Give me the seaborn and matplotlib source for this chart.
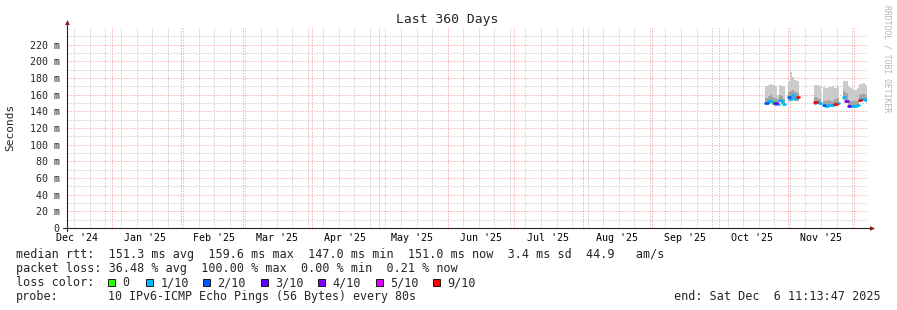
import numpy as np
import pandas as pd
import matplotlib
matplotlib.use("Agg")
import matplotlib.pyplot as plt
import matplotlib.dates as mdates
from matplotlib.patches import Rectangle
import matplotlib.ticker as mticker
import seaborn as sns

# ---------------- data ----------------
days = pd.date_range("2025-10-22", "2025-12-06", freq="D")

median_ms = [150, 152, 153, 151, 150, 149, 154, 152, 149, None,
             157, 155, 159.6, 156, 157, None, None, None, None, None, None, None,
             151, 151, 150, None,
             148, 147, 148, 148, 148, 149, 150, None, None,
             157, 153, 147, 147, 147, 147, 148, 154, 155, 155, 154]
smoke_min = [148, 149, 150, 148, 147, 147, 151, 149, 147, None,
             153, 152, 155, 153, 153, None, None, None, None, None, None, None,
             148, 149, 148, None,
             146, 145, 146, 146, 146, 147, 148, None, None,
             154, 150, 145, 145, 145, 145, 146, 151, 152, 152, 151]
smoke_q3 = [156, 158, 160, 157, 156, 154, 160, 158, 155, None,
            163, 165, 166, 163, 162, None, None, None, None, None, None, None,
            157, 156, 155, None,
            153, 153, 154, 153, 153, 155, 156, None, None,
            165, 162, 152, 153, 152, 152, 153, 160, 161, 161, 160]
smoke_max = [170, 172, 173, 172, 171, 160, 172, 171, 170, None,
             177, 187, 181, 178, 176, None, None, None, None, None, None, None,
             172, 172, 171, None,
             169, 168, 169, 169, 170, 168, 170, None, None,
             177, 176, 170, 168, 167, 166, 168, 173, 173, 174, 172]
loss_tenths = [2, 1, 1, 0, 3, 1, 1, 1, 1, None,
               2, 1, 1, 1, 9, None, None, None, None, None, None, None,
               9, 1, 1, None,
               2, 1, 1, 1, 1, 9, 1, None, None,
               1, 4, 3, 1, 1, 1, 1, 9, 1, 1, 1]

loss_labels = ["0", "1/10", "2/10", "3/10", "4/10", "5/10", "9/10"]
loss_colors = ["#26ff00", "#00b8ff", "#0059ff", "#5e00ff", "#7e00ff", "#dd00ff", "#ff0000"]

month_labels = ["Dec '24", "Jan '25", "Feb '25", "Mar '25", "Apr '25", "May '25",
                "Jun '25", "Jul '25", "Aug '25", "Sep '25", "Oct '25", "Nov '25"]
y_ticks = list(range(0, 221, 20))

legend_rtt = "median rtt:  151.3 ms avg  159.6 ms max  147.0 ms min  151.0 ms now  3.4 ms sd  44.9   am/s"
legend_loss = "packet loss: 36.48 % avg  100.00 % max  0.00 % min  0.21 % now"
legend_probe_head = "probe:"
legend_probe = "10 IPv6-ICMP Echo Pings (56 Bytes) every 80s"
legend_end = "end: Sat Dec  6 11:13:47 2025"

start = pd.Timestamp("2024-12-11 11:13:47")
end = pd.Timestamp("2025-12-06 11:13:47")

# ---------------- style ----------------
sns.set_style("white")
plt.rcParams["font.family"] = ["DejaVu Sans Mono"]

W, H = 897, 310
fig = plt.figure(figsize=(W / 100, H / 100), dpi=100)
fig.patch.set_facecolor("white")

def fx(x):
    return x / W

def fy(y):
    return 1 - y / H

x0, x1 = 66.5, 866.5
y0, y1 = 228, 27.3
ax = fig.add_axes([fx(x0), fy(y0), (x1 - x0) / W, (y0 - y1) / H])
ax.set_facecolor("white")

# ---------------- build step arrays ----------------
one = pd.Timedelta(days=1)

def step_series(vals):
    xs, ys = [], []
    for d, v in zip(days, vals):
        if v is None:
            xs.append(d); ys.append(np.nan)
        else:
            xs.append(d); ys.append(v)
            xs.append(d + one); ys.append(v)
    return pd.to_datetime(xs), np.array(ys, dtype=float)

sx, s_min = step_series(smoke_min)
_, s_q3 = step_series(smoke_q3)
_, s_max = step_series(smoke_max)

ax.fill_between(sx, s_min, s_max, color="#cbcbcb", linewidth=0, zorder=2)
ax.fill_between(sx, s_min, s_q3, color="#a4a4a4", linewidth=0, zorder=3)

def loss_cat(v):
    if v == 0:
        return "0"
    if v <= 4:
        return f"{v}/10"
    if v <= 8:
        return "5/10"
    return "9/10"

rows = []
for i, (d, m, l) in enumerate(zip(days, median_ms, loss_tenths)):
    if m is None:
        continue
    c = loss_cat(l)
    rows.append(dict(t=d, ms=m, loss=c, seg=i))
    rows.append(dict(t=d + one, ms=m, loss=c, seg=i))
med_df = pd.DataFrame(rows)

sns.lineplot(data=med_df, x="t", y="ms", hue="loss", units="seg", estimator=None,
             hue_order=loss_labels, palette=dict(zip(loss_labels, loss_colors)),
             legend=False, linewidth=1.9, sort=False, ax=ax, zorder=5)

# ---------------- axes / grid ----------------
ax.set_xlim(start, end)
ax.set_ylim(0, 241)
ax.set_xlabel("")
ax.set_ylabel("")

ax.xaxis.set_major_locator(mdates.MonthLocator())
ax.xaxis.set_minor_locator(mdates.WeekdayLocator(byweekday=mdates.SU))
ax.yaxis.set_major_locator(mticker.FixedLocator(y_ticks))
ax.yaxis.set_minor_locator(mticker.FixedLocator(list(range(10, 231, 20))))
ax.yaxis.set_major_formatter(mticker.FuncFormatter(lambda v, p: "0" if v == 0 else f"{int(v)} m"))

ax.set_axisbelow(True)
gkw = dict(linewidth=0.72, linestyle=(0, (1.4, 1.4)))
ax.grid(which="major", axis="both", color="#ff0000", alpha=0.33, **gkw)
ax.grid(which="minor", axis="both", color="#a0a0a0", alpha=0.5, **gkw)

ax.tick_params(axis="x", which="major", length=3, width=0.7, color="#222222",
               labelbottom=False, direction="out")
ax.tick_params(axis="x", which="minor", length=0)
ax.tick_params(axis="y", which="major", length=2, width=0.7, color="#222222",
               labelsize=7.2, pad=2.8, direction="out")
ax.tick_params(axis="y", which="minor", length=0)

for s in ax.spines.values():
    s.set_visible(False)

# axis lines with arrows
ax.plot([-0.004, 1.006], [0, 0], transform=ax.transAxes, color="#222222", lw=0.8,
        clip_on=False, zorder=6)
ax.plot([0, 0], [-0.015, 1.02], transform=ax.transAxes, color="#222222", lw=0.8,
        clip_on=False, zorder=6)
ax.plot([1.007], [0], marker=">", ms=3.5, color="#8b1a1a", transform=ax.transAxes,
        clip_on=False, zorder=7, mec="none")
ax.plot([0], [1.025], marker="^", ms=3.5, color="#8b1a1a", transform=ax.transAxes,
        clip_on=False, zorder=7, mec="none")

# month labels centred mid-month
mid_months = [pd.Timestamp(2024, 12, 16)] + [pd.Timestamp(2025, m, 16) for m in range(1, 12)]
for d, lab in zip(mid_months, month_labels):
    ax.text(d, -0.05, lab, transform=ax.get_xaxis_transform(), ha="center",
            va="center", fontsize=7.2, color="black", clip_on=False)

# ---------------- texts ----------------
fig.text(fx(447.5), fy(20), "Last 360 Days", ha="center", va="center", fontsize=9.4)
fig.text(fx(10.5), fy(127), "Seconds", ha="center", va="center", rotation=90, fontsize=8)
fig.text(fx(886.5), fy(59), "RRDTOOL / TOBI OETIKER", ha="center", va="center",
         rotation=270, fontsize=5.8, color="#b4b4b4")

lfs = 8.5
ly = [254.7, 268.7, 282.7, 296.7]
fig.text(fx(16), fy(ly[0]), legend_rtt, va="center", fontsize=lfs)
fig.text(fx(16), fy(ly[1]), legend_loss, va="center", fontsize=lfs)

fig.text(fx(16), fy(ly[2]), "loss color:", va="center", fontsize=lfs)
sw_x = [108, 146, 203, 261, 318, 376, 433]
for sx_, lab, col in zip(sw_x, loss_labels, loss_colors):
    fig.patches.append(Rectangle((fx(sx_), fy(ly[2] + 3.5)), 7 / W, 7 / H,
                                 transform=fig.transFigure, facecolor=col,
                                 edgecolor="black", linewidth=0.6))
    fig.text(fx(sx_ + 14.5), fy(ly[2]), lab, va="center", fontsize=lfs)

fig.text(fx(16), fy(ly[3]), legend_probe_head, va="center", fontsize=lfs)
fig.text(fx(107.5), fy(ly[3]), legend_probe, va="center", fontsize=8.35)
fig.text(fx(881), fy(ly[3]), legend_end, va="center", ha="right", fontsize=lfs)

fig.savefig("out.png", dpi=100, facecolor="white")
